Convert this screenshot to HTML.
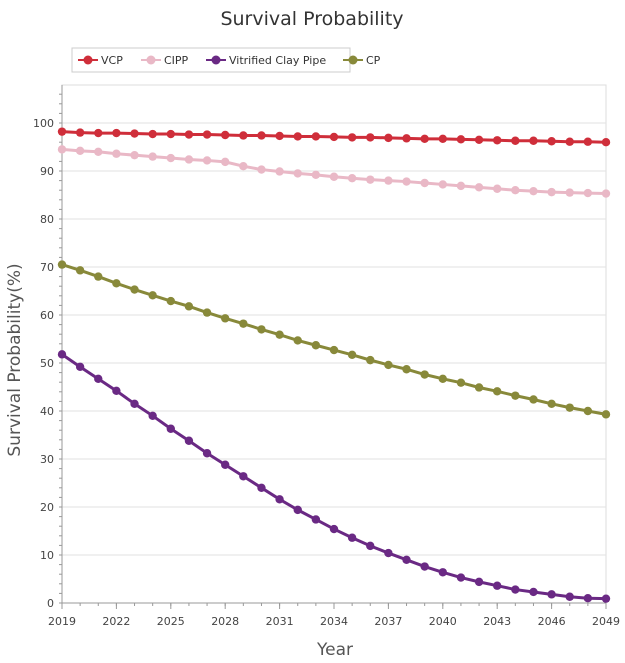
<!DOCTYPE html>
<html><head><meta charset="utf-8"><style>
html,body{margin:0;padding:0;background:#fff;width:625px;height:663px;overflow:hidden}
svg{display:block;font-family:"DejaVu Sans","Liberation Sans",sans-serif}
</style></head><body>
<svg id="chart" width="625" height="663">
<text x="312" y="25" text-anchor="middle" font-size="19" fill="#333">Survival Probability</text>
<g id="legend">
<rect x="72" y="48" width="278" height="24" fill="#fff" stroke="#ccc"/>
</g>
<g id="grid"></g>
<g id="axes"></g>
<g id="series"></g>
<text x="335" y="655" text-anchor="middle" font-size="17" fill="#555">Year</text>
<text transform="translate(20,360) rotate(-90)" text-anchor="middle" font-size="17" fill="#555">Survival Probability(%)</text>
</svg>
<script>
const years = Array.from({length:31},(_,i)=>2019+i);
const xTicks = [2019,2022,2025,2028,2031,2034,2037,2040,2043,2046,2049];
const yTicks = [0,10,20,30,40,50,60,70,80,90,100];
const vcp = [98.2,98,97.9,97.9,97.8,97.7,97.7,97.6,97.6,97.5,97.4,97.4,97.3,97.2,97.2,97.1,97.0,97.0,96.9,96.8,96.7,96.7,96.6,96.5,96.4,96.3,96.3,96.2,96.1,96.1,96.0];
const cipp = [94.5,94.2,94,93.6,93.3,93,92.7,92.4,92.2,91.9,91.0,90.3,89.9,89.5,89.2,88.8,88.5,88.2,88.0,87.8,87.5,87.2,86.9,86.6,86.3,86.0,85.8,85.6,85.5,85.4,85.3];
const vitrified = [51.8,49.2,46.7,44.2,41.5,39,36.3,33.8,31.2,28.8,26.4,24,21.6,19.4,17.4,15.4,13.6,11.9,10.4,9,7.6,6.4,5.3,4.4,3.6,2.8,2.3,1.8,1.3,1.0,0.9];
const cp = [70.5,69.3,68,66.6,65.3,64.1,62.9,61.8,60.5,59.3,58.2,57,55.9,54.7,53.7,52.7,51.7,50.6,49.6,48.7,47.6,46.7,45.9,44.9,44.1,43.2,42.4,41.5,40.7,40,39.3];
const seriesNames = ["VCP","CIPP","Vitrified Clay Pipe","CP"];
const seriesColors = ["#cf2e3a","#e9b8c6","#6a2984","#88893a"];
const seriesData = [vcp,cipp,vitrified,cp];

const NS="http://www.w3.org/2000/svg";
const X0=62,X1=606,Y0=603,YTOP=85;
const x=v=>X0+(v-2019)/(2049-2019)*(X1-X0);
const y=v=>Y0-v*4.8;
function mk(tag,attrs,parent){const e=document.createElementNS(NS,tag);for(const k in attrs)e.setAttribute(k,attrs[k]);parent.appendChild(e);return e;}
const grid=document.getElementById('grid'),axes=document.getElementById('axes'),ser=document.getElementById('series'),leg=document.getElementById('legend');
mk('rect',{x:X0,y:YTOP,width:X1-X0,height:Y0-YTOP,fill:'none',stroke:'#ddd'},grid);
yTicks.forEach(t=>{
  const l=mk('line',{x1:X0,x2:X1,y1:y(t),y2:y(t),stroke:'#e2e2e2'},grid);
  
  
  const tx=mk('text',{x:X0-8,y:y(t)+4,'text-anchor':'end','font-size':11,fill:'#444'},axes);
  tx.textContent=t;
  
  
});
for(let v=0;v<=107;v+=2){mk('line',{x1:X0-3,x2:X0,y1:y(v),y2:y(v),stroke:'#999'},axes);}
years.forEach(v=>{mk('line',{x1:x(v),x2:x(v),y1:Y0,y2:Y0+3,stroke:'#999'},axes);});
mk('line',{x1:X0,x2:X0,y1:YTOP,y2:Y0,stroke:'#999'},axes);
mk('line',{x1:X0,x2:X1,y1:Y0,y2:Y0,stroke:'#999'},axes);
xTicks.forEach(t=>{
  mk('line',{x1:x(t),x2:x(t),y1:Y0,y2:Y0+6,stroke:'#999'},axes);
  const tx=mk('text',{x:x(t),y:Y0+22,'text-anchor':'middle','font-size':11,fill:'#444'},axes);
  tx.textContent=t;
  
  
});
[0,2,3,1].forEach(si=>{
  const d=seriesData[si],c=seriesColors[si];
  const g=mk('g',{},ser);
  
  
  mk('polyline',{points:d.map((v,i)=>x(years[i])+','+y(v)).join(' '),fill:'none',stroke:c,'stroke-width':3},g);
  d.forEach((v,i)=>{
    const p=mk('circle',{cx:x(years[i]),cy:y(v),r:4.2,fill:c},g);
    
    
  });
});
let lx=78;const lw=[53,55,127,44];
seriesNames.forEach((n,i)=>{
  const g=mk('g',{},leg);
  
  
  mk('line',{x1:lx,x2:lx+20,y1:60,y2:60,stroke:seriesColors[i],'stroke-width':2},g);
  mk('circle',{cx:lx+10,cy:60,r:4.5,fill:seriesColors[i]},g);
  const t=mk('text',{x:lx+23,y:64,'font-size':11,fill:'#333'},g);
  t.textContent=n;
  lx+=lw[i]+10;
});
</script>
</body></html>
